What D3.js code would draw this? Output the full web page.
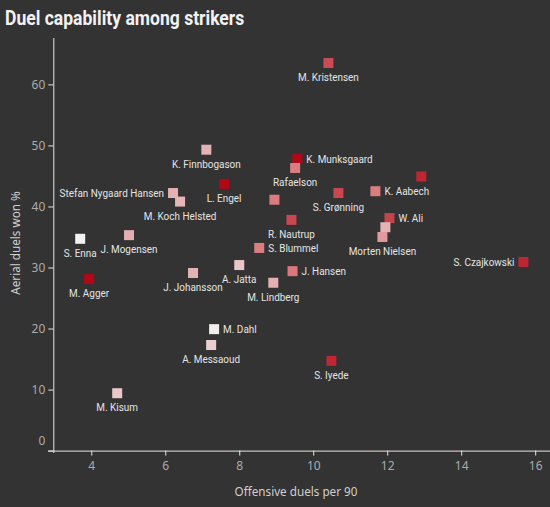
<!DOCTYPE html>
<html><head><meta charset="utf-8">
<script src="https://cdn.jsdelivr.net/npm/d3@7"></script>
<style>body{margin:0;background:#333333;} svg{display:block}</style>
</head><body><svg id="chart" width="550" height="507"></svg>
<script>
// ---- data ----
const players = ["M. Kristensen","K. Finnbogason","K. Munksgaard","Rafaelson","L. Engel","Stefan Nygaard Hansen","M. Koch Helsted","","S. Grønning","K. Aabech","","W. Ali","","Morten Nielsen","R. Nautrup","S. Blummel","S. Czajkowski","J. Hansen","M. Lindberg","A. Jatta","J. Johansson","J. Mogensen","S. Enna","M. Agger","M. Dahl","A. Messaoud","S. Iyede","M. Kisum"];
const offensiveDuels = [10.41,7.11,9.57,9.51,7.59,6.21,6.40,8.95,10.68,11.68,12.92,12.06,11.95,11.87,9.41,8.54,15.68,9.44,8.92,8.00,6.75,5.02,3.70,3.94,7.32,7.24,10.49,4.70];
const aerialWon = [63.5,49.3,47.8,46.3,43.7,42.2,40.8,41.1,42.2,42.5,44.9,38.1,36.6,35.0,37.8,33.2,30.9,29.4,27.5,30.4,29.1,35.3,34.7,28.1,19.9,17.3,14.7,9.4];
const intensity = [0.68,0.26,0.97,0.48,0.97,0.27,0.25,0.48,0.70,0.48,0.84,0.72,0.26,0.36,0.70,0.48,0.84,0.50,0.27,0.18,0.26,0.28,0.0,0.97,0.02,0.14,0.84,0.17];
const labelSide = ["below","below","right","below","below","left","below","none","below","right","none","right","none","below","below","right","left","right","below","below","below","below","below","below","right","below","below","below"];
const xTicks = [4,6,8,10,12,14,16];
const yTicks = [0,10,20,30,40,50,60];
const title = "Duel capability among strikers";
const xTitle = "Offensive duels per 90";
const yTitle = "Aerial duels won %";

// ---- layout ----
const svg = d3.select("#chart");
const x = d3.scaleLinear().domain([3, 16.4]).range([54.3, 550]);
const y = d3.scaleLinear().domain([0, 67.6]).range([450.6, 38]);
const color = d3.scaleLinear().domain([0, 0.5, 1]).range(["#f2f2f2", "#d9777b", "#b0000f"]);
const COND = 0.85;

function condText(g, tx, ty, str, anchor, opts) {
  return g.append("text")
    .attr("transform", `translate(${tx},${ty}) scale(${opts.scale||COND},1)`)
    .attr("text-anchor", anchor)
    .attr("font-family", opts.family || "Roboto")
    .attr("font-size", opts.size || 11.7)
    .attr("font-weight", opts.weight || "normal")
    .attr("fill", opts.fill || "#e4e4e4")
    .text(str);
}

// title
condText(svg, 5, 25, title, "start", {size: 19.5, weight: "bold", fill: "#f2f2f2", scale: 0.9});

// axes
const axisColor = "#e6e6e6";
const gx = svg.append("g").attr("transform", "translate(0,450.6)")
  .call(d3.axisBottom(x).tickValues(xTicks).tickSize(5).tickPadding(6).tickFormat(d3.format("d")));
gx.select(".domain").attr("d", `M48,0.5H550`);
const gy = svg.append("g").attr("transform", "translate(53.3,0)")
  .call(d3.axisLeft(y).tickValues(yTicks).tickSize(5).tickPadding(3).tickFormat(d3.format("d")));
gy.select(".domain").attr("d", `M0.5,38V453`);
[gx, gy].forEach(g => {
  g.selectAll(".domain").attr("stroke", axisColor).attr("stroke-width", 1);
  g.selectAll(".tick line").attr("stroke", axisColor);
  g.selectAll(".tick text").attr("fill", "#ababab").attr("font-family", "Noto Sans").attr("font-size", 12);
});
gy.selectAll(".tick text").filter(d => d === 0).attr("dy", "-0.5em");

svg.append("text").attr("x", 296).attr("y", 496).attr("text-anchor", "middle")
  .attr("font-family", "Noto Sans").attr("font-size", 11.7).attr("fill", "#d0d0d0").text(xTitle);
svg.append("text").attr("transform", "translate(20,243) rotate(-90)").attr("text-anchor", "middle")
  .attr("font-family", "Noto Sans").attr("font-size", 11.7).attr("fill", "#d0d0d0").text(yTitle);

// points
const data = players.map((p, i) => ({name: p, xv: offensiveDuels[i], yv: aerialWon[i], c: intensity[i], side: labelSide[i]}));
const gp = svg.append("g");
gp.selectAll("rect").data(data).join("rect")
  .attr("x", d => x(d.xv) - 5).attr("y", d => y(d.yv) - 5)
  .attr("width", 10).attr("height", 10)
  .attr("fill", d => color(d.c));

const gl = svg.append("g");
data.forEach(d => {
  if (d.side === "none" || !d.name) return;
  const px = x(d.xv), py = y(d.yv);
  if (d.side === "below") condText(gl, px, py + 18, d.name, "middle", {});
  else if (d.side === "right") condText(gl, px + 9, py + 4.3, d.name, "start", {});
  else condText(gl, px - 9, py + 4.3, d.name, "end", {});
});
</script></body></html>
